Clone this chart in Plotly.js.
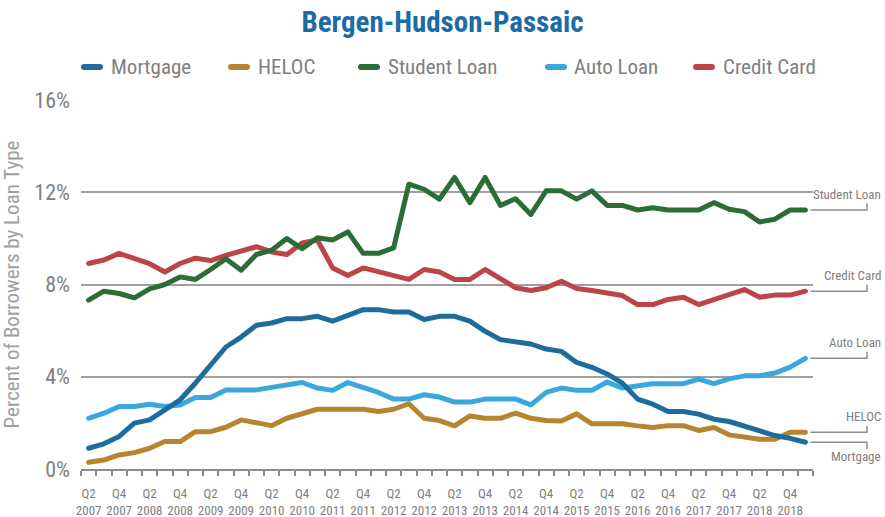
<!DOCTYPE html>
<html>
<head>
<meta charset="utf-8">
<script src="https://cdn.plot.ly/plotly-3.0.1.min.js"></script>
<style>
  html, body { margin: 0; padding: 0; background: #fff; }
  #chart { width: 885px; height: 517px; }
  .scatterlayer .js-line, .shapelayer path { stroke-linecap: round; stroke-linejoin: round; }
</style>
</head>
<body>
<div id="chart"></div>
<script>
// ---- Data (percent of borrowers by loan type, quarterly Q2 2007 – Q1 2019) ----
const quarters = [
  "Q2 2007","Q3 2007","Q4 2007","Q1 2008","Q2 2008","Q3 2008","Q4 2008","Q1 2009",
  "Q2 2009","Q3 2009","Q4 2009","Q1 2010","Q2 2010","Q3 2010","Q4 2010","Q1 2011",
  "Q2 2011","Q3 2011","Q4 2011","Q1 2012","Q2 2012","Q3 2012","Q4 2012","Q1 2013",
  "Q2 2013","Q3 2013","Q4 2013","Q1 2014","Q2 2014","Q3 2014","Q4 2014","Q1 2015",
  "Q2 2015","Q3 2015","Q4 2015","Q1 2016","Q2 2016","Q3 2016","Q4 2016","Q1 2017",
  "Q2 2017","Q3 2017","Q4 2017","Q1 2018","Q2 2018","Q3 2018","Q4 2018","Q1 2019"
];

const mortgage = [0.90,1.09,1.41,1.99,2.13,2.54,3.00,3.72,4.52,5.29,5.72,6.23,6.33,6.52,6.52,6.62,
                  6.41,6.67,6.91,6.91,6.81,6.81,6.48,6.62,6.62,6.41,5.97,5.61,5.51,5.42,5.20,5.10,
                  4.62,4.41,4.12,3.72,3.03,2.81,2.49,2.49,2.38,2.16,2.06,1.84,1.62,1.45,1.33,1.16];
const heloc    = [0.29,0.39,0.61,0.71,0.90,1.19,1.19,1.62,1.62,1.81,2.13,1.99,1.88,2.20,2.42,2.59,
                  2.59,2.59,2.59,2.49,2.59,2.83,2.20,2.10,1.87,2.30,2.20,2.20,2.42,2.20,2.10,2.08,
                  2.39,1.96,1.96,1.96,1.87,1.80,1.88,1.88,1.67,1.80,1.48,1.38,1.29,1.29,1.59,1.59];
const student  = [7.32,7.71,7.61,7.42,7.81,8.00,8.33,8.22,8.65,9.12,8.62,9.30,9.49,9.99,9.55,10.03,
                  9.93,10.28,9.35,9.35,9.59,12.35,12.13,11.70,12.64,11.55,12.64,11.43,11.72,11.04,12.06,12.06,
                  11.70,12.06,11.43,11.43,11.23,11.33,11.23,11.23,11.23,11.55,11.26,11.16,10.71,10.83,11.23,11.23];
const auto     = [2.20,2.42,2.71,2.71,2.81,2.71,2.78,3.10,3.10,3.43,3.43,3.43,3.54,3.65,3.75,3.51,
                  3.41,3.75,3.55,3.32,3.03,3.03,3.22,3.12,2.90,2.90,3.03,3.03,3.03,2.78,3.32,3.51,
                  3.41,3.41,3.77,3.51,3.61,3.70,3.70,3.70,3.90,3.70,3.91,4.04,4.04,4.16,4.42,4.80];
const credit   = [8.91,9.06,9.35,9.14,8.90,8.54,8.91,9.14,9.04,9.26,9.46,9.64,9.41,9.30,9.80,9.93,
                  8.72,8.39,8.72,8.54,8.36,8.22,8.65,8.54,8.22,8.22,8.65,8.26,7.86,7.74,7.86,8.14,
                  7.83,7.74,7.64,7.52,7.13,7.13,7.35,7.45,7.13,7.35,7.57,7.78,7.45,7.54,7.54,7.71];

const seriesNames = ["Mortgage","HELOC","Student Loan","Auto Loan","Credit Card"];
const yTickVals = [0, 4, 8, 12, 16];
const yTickText = ["0%", "4%", "8%", "12%", "16%"];
const titleText = "Bergen-Hudson-Passaic";
const yTitleText = "Percent of Borrowers by Loan Type";

// ---- Styling ----
const FONT = "'Liberation Sans Narrow', 'Roboto Condensed', 'DejaVu Sans Condensed', Roboto, sans-serif";
const GRAY = "#808080";
const LINEGRAY = "#8c8c8c";
const colors = {
  "Mortgage": "#1e6c9c",
  "HELOC": "#b6852f",
  "Student Loan": "#2a6d35",
  "Auto Loan": "#3aa8df",
  "Credit Card": "#bd4547"
};
const values = {
  "Mortgage": mortgage, "HELOC": heloc, "Student Loan": student,
  "Auto Loan": auto, "Credit Card": credit
};

const yMax = 16;
const plotL = 81, plotR = 813, plotT = 100, plotB = 469, W = 885, H = 517;
const px2x = X => (X - plotL) / (plotR - plotL);
const px2y = Y => (plotB - Y) / (plotB - plotT);

// draw order (mortgage on top)
const drawOrder = ["Credit Card","Student Loan","Auto Loan","HELOC","Mortgage"];
const traces = drawOrder.map(name => ({
  type: "scatter",
  mode: "lines",
  name: name,
  x: quarters,
  y: values[name],
  line: { color: colors[name], width: 5 },
  hoverinfo: "x+y+name",
  showlegend: false
}));

// x tick labels: every other quarter, two lines
const tickText = quarters.map((q, i) => i % 2 === 0 ? q.replace(" ", "<br>") : "");

const shapes = [];
const annotations = [];

// manual legend (short thick line + label)
const legendItems = [
  { name: "Mortgage",     x0: 84,  text: 109 },
  { name: "HELOC",        x0: 231, text: 256 },
  { name: "Student Loan", x0: 361, text: 386 },
  { name: "Auto Loan",    x0: 548, text: 572 },
  { name: "Credit Card",  x0: 696, text: 721 }
];
const legY = px2y(67);
legendItems.forEach(it => {
  shapes.push({
    type: "line", xref: "paper", yref: "paper",
    x0: px2x(it.x0), x1: px2x(it.x0 + 16), y0: legY, y1: legY,
    line: { color: colors[it.name], width: 6 }
  });
  annotations.push({
    xref: "paper", yref: "paper", x: px2x(it.text), y: legY,
    xanchor: "left", yanchor: "middle", showarrow: false,
    text: it.name, font: { family: FONT, size: 21, color: GRAY }
  });
});

// end-of-line callouts (labels right-aligned at the page edge)
const callouts = [
  { name: "Student Loan", dir: 1 },
  { name: "Credit Card",  dir: 1 },
  { name: "Auto Loan",    dir: 1 },
  { name: "HELOC",        dir: 1 },
  { name: "Mortgage",     dir: -1 }
];
callouts.forEach(c => {
  const arr = values[c.name];
  const v = arr[arr.length - 1];
  const yp = v / yMax;
  const tick = 6 / (plotB - plotT) * c.dir;
  shapes.push({
    type: "path", xref: "paper", yref: "paper",
    path: `M${px2x(811)},${yp} L${px2x(867)},${yp} L${px2x(867)},${yp + tick}`,
    line: { color: LINEGRAY, width: 1.5 }
  });
  annotations.push({
    xref: "paper", yref: "y", x: px2x(883), y: v,
    xanchor: "right", yanchor: "middle", showarrow: false,
    yshift: c.dir > 0 ? 16 : -14,
    text: c.name, font: { family: FONT, size: 13, color: GRAY }
  });
});

const layout = {
  width: W, height: H,
  margin: { l: plotL, r: W - plotR, t: plotT, b: H - plotB, pad: 0 },
  paper_bgcolor: "#ffffff",
  plot_bgcolor: "#ffffff",
  font: { family: FONT, color: GRAY },
  title: {
    text: "<b>" + titleText + "</b>",
    xref: "container", x: 0.5, xanchor: "center",
    yref: "container", y: 1 - 22 / H, yanchor: "middle",
    font: { family: FONT, size: 29, color: "#1b6ca6" }
  },
  showlegend: false,
  xaxis: {
    type: "category",
    categoryorder: "array",
    categoryarray: quarters,
    range: [-0.5, quarters.length - 0.5],
    tickmode: "array",
    tickvals: quarters,
    ticktext: tickText,
    tickson: "boundaries",
    ticks: "outside",
    ticklen: 5,
    tickwidth: 1.5,
    tickcolor: LINEGRAY,
    showline: true,
    linecolor: LINEGRAY,
    linewidth: 1.5,
    showgrid: false,
    zeroline: false,
    tickangle: 0,
    ticklabelstandoff: 12,
    tickfont: { family: FONT, size: 13, color: GRAY },
    fixedrange: true
  },
  yaxis: {
    range: [0, yMax],
    tickmode: "array",
    tickvals: yTickVals,
    ticktext: yTickText,
    ticks: "",
    showline: false,
    zeroline: false,
    showgrid: true,
    gridcolor: "#a0a0a0",
    gridwidth: 1.5,
    ticklabelstandoff: 10,
    tickfont: { family: FONT, size: 22, color: GRAY },
    title: {
      text: yTitleText,
      standoff: 10,
      font: { family: FONT, size: 21, color: "#a0a0a0" }
    },
    fixedrange: true
  },
  shapes: shapes,
  annotations: annotations
};

Plotly.newPlot("chart", traces, layout, { displayModeBar: false, responsive: false });
</script>
</body>
</html>
